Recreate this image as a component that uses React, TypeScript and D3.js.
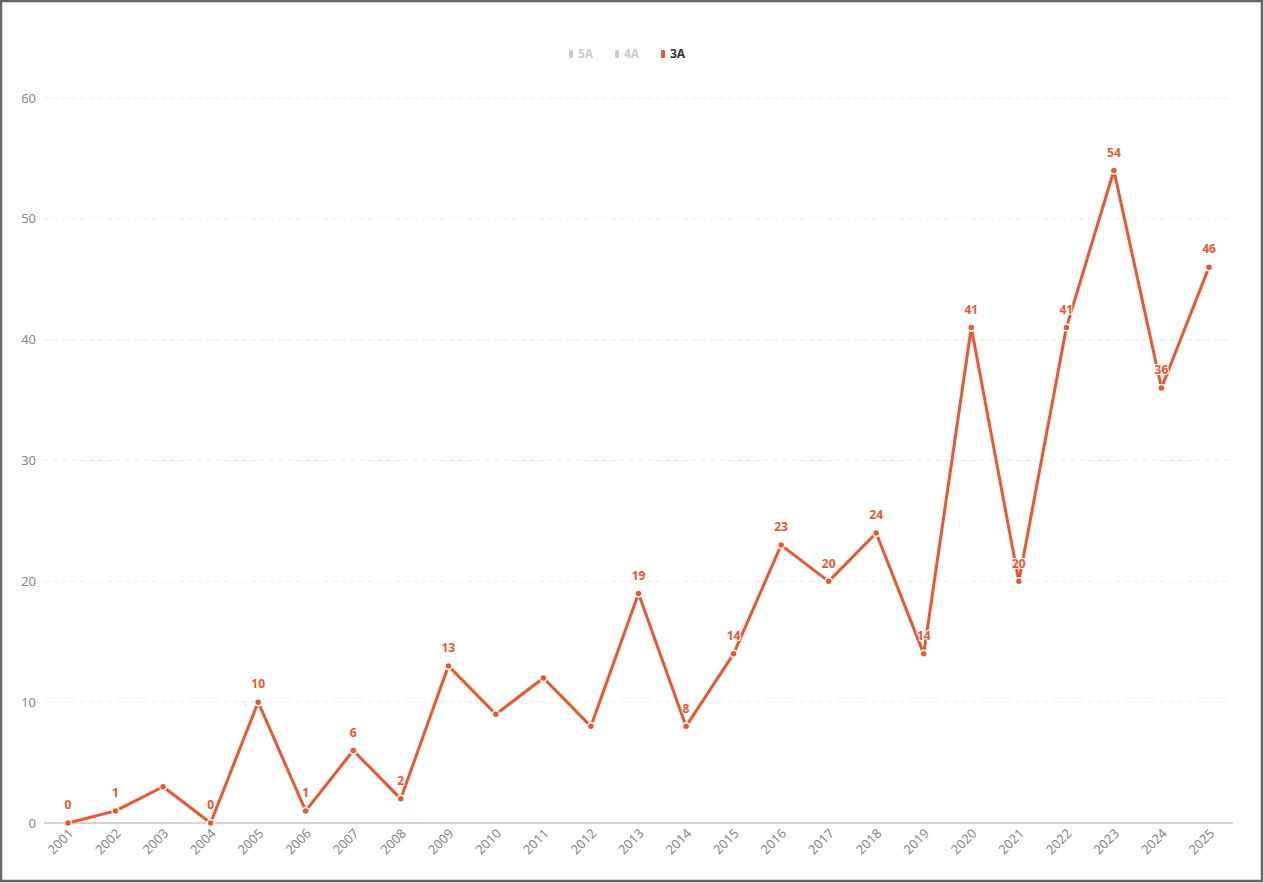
import React from "react";
import * as d3 from "d3";

const years = ["2001","2002","2003","2004","2005","2006","2007","2008","2009","2010","2011","2012","2013","2014","2015","2016","2017","2018","2019","2020","2021","2022","2023","2024","2025"];
const values3A = [0,1,3,0,10,1,6,2,13,9,12,8,19,8,14,23,20,24,14,41,20,41,54,36,46];
const hiddenLabelYears = ["2003","2010","2011","2012"];
const yTicks = [0,10,20,30,40,50,60];
const legendItems = [
  { name: "5A", active: false },
  { name: "4A", active: false },
  { name: "3A", active: true },
];

const W = 1264, H = 883;
const RED = "#EE5630";
const FONT = "'Noto Sans', 'Open Sans', sans-serif";

export default function App() {
  const x = d3.scalePoint<string>().domain(years).range([68, 1209]);
  const y = d3.scaleLinear().domain([0, 60]).range([823, 98]);
  const line = d3.line<number>().x((_, i) => x(years[i])!).y(d => y(d));
  const legendX = [569, 615, 661];

  return (
    <svg width={W} height={H} style={{ position: "absolute", left: 0, top: 0, background: "#fff" }} fontFamily={FONT}>
      <rect x={0} y={0} width={W} height={H} fill="#fff" />
      {yTicks.filter(t => t > 0).map(t => (
        <line key={t} x1={44} x2={1233} y1={y(t)} y2={y(t)} stroke="#e8e8e8" strokeDasharray="5,4" />
      ))}
      <line x1={44} x2={1233} y1={y(0)} y2={y(0)} stroke="#aaa" strokeWidth={1} />
      {yTicks.map(t => (
        <text key={t} x={36} y={y(t)} dy="0.35em" textAnchor="end" fontSize={13} fill="#888">{t}</text>
      ))}
      {years.map(yr => (
        <text key={yr} transform={`translate(${x(yr)! + 3},${y(0) + 8}) rotate(-45)`} textAnchor="end" dy="0.35em" fontSize={13} fill="#888">{yr}</text>
      ))}
      <path d={line(values3A)!} fill="none" stroke={RED} strokeWidth={3} strokeLinejoin="round" />
      {values3A.map((v, i) => (
        <circle key={i} cx={x(years[i])} cy={y(v)} r={3.5} fill={RED} stroke="#fff" strokeWidth={1.5} />
      ))}
      {values3A.map((v, i) => hiddenLabelYears.includes(years[i]) ? null : (
        <text key={i} x={x(years[i])} y={y(v) - 18} dy="0.35em" textAnchor="middle" fontSize={12} fontWeight="bold" fill={RED} stroke="#fff" strokeWidth={2} paintOrder="stroke">{v}</text>
      ))}
      {legendItems.map((it, i) => (
        <g key={it.name} transform={`translate(${legendX[i]},54)`}>
          <rect x={0} y={-4} width={4} height={8} rx={1} fill={it.active ? RED : "#ccc"} />
          <text x={9} y={0} dy="0.35em" fontSize={12} fontWeight="bold" fill={it.active ? "#333" : "#ccc"}>{it.name}</text>
        </g>
      ))}
      <rect x={1} y={1} width={W - 3} height={H - 3} fill="none" stroke="#666" strokeWidth={2.5} />
    </svg>
  );
}
